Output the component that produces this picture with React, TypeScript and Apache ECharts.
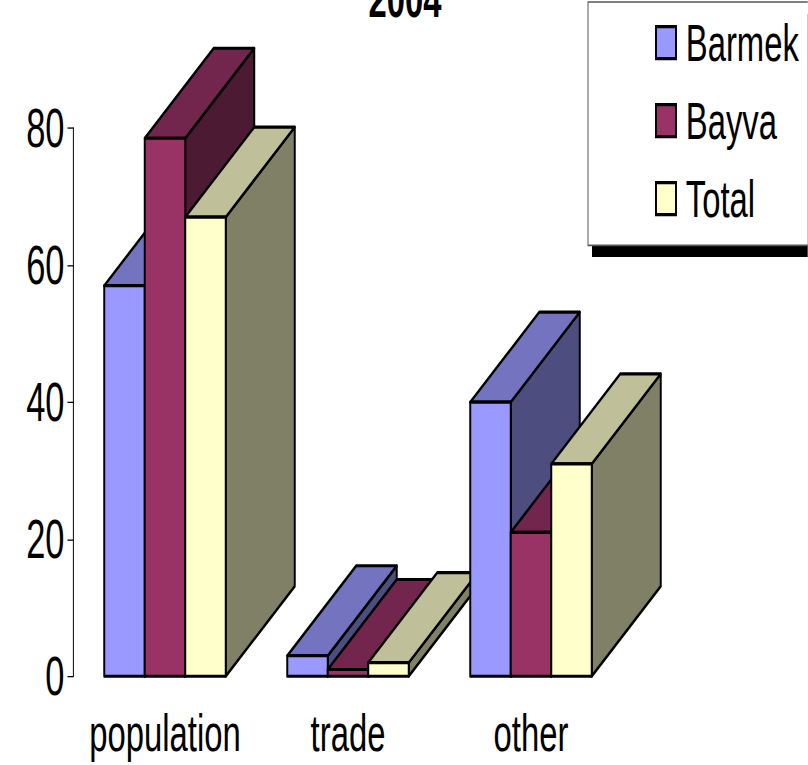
import React, { useEffect, useRef } from 'react';
import * as echarts from 'echarts';

// ---- data ----
const categories = ['population', 'trade', 'other'];
const seriesNames = ['Barmek', 'Bayva', 'Total'];
const barmek = [57, 3, 40];
const bayva = [78.5, 1, 21];
const total = [67, 2, 31];
const titleText = '2004';

// ---- styles ----
const FRONT = ['#9999FF', '#993366', '#FFFFCC'];
const TOP = ['#7373BF', '#73264D', '#BFBF99'];
const SIDE = ['#4D4D80', '#4D1A33', '#808066'];
const FONT = "'Liberation Sans', Arial, sans-serif";

// The original picture is a narrow-font chart stretched vertically:
// render in a pre-scaled space and apply the same affine scale.
const SX = 0.82;
const SY = 1.3;
const W = 808 / SX;
const H = 765 / SY;
const px = (x: number) => x / SX; // final px -> layout px (horizontal)
const py = (y: number) => y / SY; // final px -> layout px (vertical)

const BAND_PX = 183; // final px per category
const BAR_FRAC = 40.5 / BAND_PX;
const DEPTH_X_FRAC = 69 / BAND_PX;
const DEPTH_Y_FRAC = (90 / SY) / (BAND_PX / SX);

function makeRenderItem(si: number) {
  return (params: any, api: any) => {
    const cat = api.value(0);
    const val = api.value(1);
    const base = api.coord([cat, 0]);
    const top = api.coord([cat, val]);
    const band = api.size([1, 0])[0];
    const w = band * BAR_FRAC;
    const dx = band * DEPTH_X_FRAC;
    const dy = band * DEPTH_Y_FRAC;
    const x0 = base[0] - 1.5 * w + si * w;
    const x1 = x0 + w;
    const yb = base[1];
    const yt = top[1];
    const z = (cat * 3 + si) * 10;
    const face = (pts: number[][], fill: string, k: number) => ({
      type: 'polygon',
      shape: { points: pts },
      style: { fill, stroke: '#000', lineWidth: 2.4, lineJoin: 'round' },
      z2: z + k,
    });
    return {
      type: 'group',
      children: [
        face([[x1, yb], [x1 + dx, yb - dy], [x1 + dx, yt - dy], [x1, yt]], SIDE[si], 1),
        face([[x0, yt], [x1, yt], [x1 + dx, yt - dy], [x0 + dx, yt - dy]], TOP[si], 2),
        face([[x0, yb], [x1, yb], [x1, yt], [x0, yt]], FRONT[si], 3),
      ],
    };
  };
}

export default function App() {
  const ref = useRef<HTMLDivElement>(null);
  useEffect(() => {
    if (!ref.current) return;
    const chart = echarts.init(ref.current, null, { renderer: 'svg', width: W, height: H });
    const values = [barmek, bayva, total];
    const gridTop = py(128);
    const gridBottomY = py(676.3);
    chart.setOption({
      animation: false,
      backgroundColor: '#ffffff',
      title: {
        text: titleText,
        left: px(405),
        top: -21,
        padding: 0,
        textAlign: 'center',
        textStyle: { fontFamily: FONT, fontSize: 40, fontWeight: 'bold', color: '#000', lineHeight: 40 },
      },
      graphic: [
        {
          type: 'rect',
          z: 1,
          shape: { x: px(592), y: py(2) + py(12), width: 400, height: py(243) },
          style: { fill: '#000' },
        },
      ],
      legend: {
        orient: 'vertical',
        left: px(588),
        top: py(2),
        z: 5,
        padding: [py(27) - py(2) - 8, 60, 16, px(655) - px(588)],
        itemGap: py(78) - 40,
        itemWidth: px(20),
        itemHeight: py(32),
        icon: 'rect',
        backgroundColor: '#ffffff',
        borderColor: '#555555',
        borderWidth: 1.2,
        itemStyle: { borderColor: '#000', borderWidth: 2.4 },
        textStyle: { fontFamily: FONT, fontSize: 40, lineHeight: 40, color: '#000', padding: [0, 0, 0, 7] },
        data: seriesNames,
      },
      grid: {
        left: px(73.5),
        width: px(BAND_PX * 3),
        top: gridTop,
        bottom: H - gridBottomY,
      },
      xAxis: {
        type: 'category',
        data: categories,
        axisLine: { show: false },
        axisTick: { show: false },
        axisLabel: {
          margin: 24,
          fontFamily: FONT,
          fontSize: 40,
          lineHeight: 40,
          color: '#000',
          interval: 0,
        },
        splitLine: { show: false },
      },
      yAxis: {
        type: 'value',
        min: 0,
        max: 80,
        interval: 20,
        axisLine: { show: true, lineStyle: { color: '#000', width: 1.2 } },
        axisTick: { show: true, length: px(6), lineStyle: { color: '#000', width: 1 } },
        axisLabel: { margin: px(9), fontFamily: FONT, fontSize: 42, lineHeight: 42, color: '#000' },
        splitLine: { show: false },
      },
      series: seriesNames.map((name, si) => ({
        name,
        type: 'custom',
        clip: false,
        itemStyle: { color: FRONT[si], borderColor: '#000', borderWidth: 2 },
        renderItem: makeRenderItem(si),
        encode: { x: 0, y: 1 },
        data: values[si].map((v, i) => [i, v]),
      })),
    });
    return () => chart.dispose();
  }, []);
  return (
    <div
      ref={ref}
      style={{
        position: 'fixed',
        left: 0,
        top: 0,
        width: W,
        height: H,
        transform: `scale(${SX}, ${SY})`,
        transformOrigin: '0 0',
        background: '#fff',
      }}
    />
  );
}
